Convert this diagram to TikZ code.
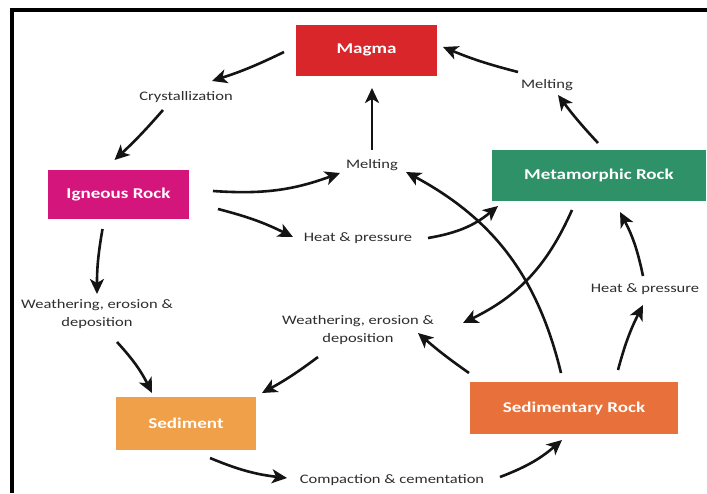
\documentclass[tikz,border=0pt]{standalone}
\usepackage{fontspec}
\setmainfont[FakeStretch=1.27]{Carlito}
\usetikzlibrary{arrows.meta,calc}
\definecolor{magmared}{HTML}{D8262B}
\definecolor{igneouspink}{HTML}{D4167C}
\definecolor{metagreen}{HTML}{2F9168}
\definecolor{sedorange}{HTML}{F0A048}
\definecolor{sedrockorange}{HTML}{E8703A}
\definecolor{labelgray}{HTML}{2E2E2E}
\begin{document}
\begin{tikzpicture}[x=1pt,y=-1pt,
  rockbox/.style={fill=#1, text=white, inner sep=0pt, font=\fontsize{15}{18}\selectfont\bfseries},
  lbl/.style={text=labelgray, inner sep=0pt, align=center, font=\fontsize{13}{18}\selectfont},
  arr/.style={-{Stealth[length=15pt,width=14pt,inset=4pt]}, line width=2.6pt, draw=black!92}]
\useasboundingbox (0,0) rectangle (707,493);
\fill[white] (0,0) rectangle (707,493);
% frame (top and left edges)
\fill[black] (10,7.5) rectangle (707,11.5);
\fill[black] (10,7.5) rectangle (14,493);

% boxes
\node[rockbox=magmared, minimum width=141pt, minimum height=51pt] (magma) at (366.5,50) {Magma};
\node[rockbox=igneouspink, minimum width=141pt, minimum height=49pt] (igneous) at (118.5,194.5) {Igneous Rock};
\node[rockbox=metagreen, minimum width=214pt, minimum height=51pt] (meta) at (599,175.5) {Metamorphic Rock};
\node[rockbox=sedorange, minimum width=140pt, minimum height=53pt] (sediment) at (186,423.5) {Sediment};
\node[rockbox=sedrockorange, minimum width=208pt, minimum height=52pt] (sedrock) at (574,408) {Sedimentary Rock};

% labels
\node[lbl] (cryst) at (186,97) {Crystallization};
\node[lbl] (melt1) at (372,165) {Melting};
\node[lbl] (melt2) at (547,85) {Melting};
\node[lbl] (heat1) at (358,238) {Heat \& pressure};
\node[lbl] (heat2) at (645,289) {Heat \& pressure};
\node[lbl] (weath1) at (97,314) {Weathering, erosion \&\\deposition};
\node[lbl] (weath2) at (358,330) {Weathering, erosion \&\\deposition};
\node[lbl] (compact) at (392,480) {Compaction \& cementation};

% connectors
\draw[arr] ([shift={(-82.5,2)}]magma.center) to[bend left=4] ([shift={(26,-16)}]cryst.center);
\draw[arr] ([shift={(-23,13)}]cryst.center) to[bend left=3] ([shift={(-4,-34.5)}]igneous.center);
\draw[arr] ([shift={(94.5,-3.5)}]igneous.center) to[bend right=12] ([shift={(-32,8)}]melt1.center);
\draw[arr] ([shift={(0,-15)}]melt1.center) -- ([shift={(5.5,38)}]magma.center);
\draw[arr] ([shift={(-1,-32.5)}]meta.center) to[bend left=3] ([shift={(11,10)}]melt2.center);
\draw[arr] ([shift={(-29,-13)}]melt2.center) to[bend left=4] ([shift={(76.5,-3)}]magma.center);
\draw[arr] ([shift={(99.5,14.5)}]igneous.center) to[bend left=6] ([shift={(-65,-1)}]heat1.center);
\draw[arr] ([shift={(70,0)}]heat1.center) to[bend right=15] ([shift={(-101,30.5)}]meta.center);
\draw[arr] ([shift={(-13,-35)}]sedrock.center) to[bend right=24] ([shift={(34,7)}]melt1.center);
\draw[arr] ([shift={(-27,34.5)}]meta.center) to[bend left=20] ([shift={(105,-7)}]weath2.center);
\draw[arr] ([shift={(-2,-13)}]heat2.center) to[bend right=8] ([shift={(21,36.5)}]meta.center);
\draw[arr] ([shift={(44,-38)}]sedrock.center) to[bend left=6] ([shift={(-2,16)}]heat2.center);
\draw[arr] ([shift={(-105,-35)}]sedrock.center) to[bend left=3] ([shift={(60,3)}]weath2.center);
\draw[arr] ([shift={(-40,27)}]weath2.center) to[bend left=4] ([shift={(76,-30.5)}]sediment.center);
\draw[arr] ([shift={(-16,34.5)}]igneous.center) to[bend right=5] ([shift={(0,-20)}]weath1.center);
\draw[arr] ([shift={(20,28)}]weath1.center) to[bend left=8] ([shift={(-34,-30.5)}]sediment.center);
\draw[arr] ([shift={(24,34.5)}]sediment.center) to[bend right=8] ([shift={(-105,-2)}]compact.center);
\draw[arr] ([shift={(108,-3)}]compact.center) to[bend right=10] ([shift={(-12,32)}]sedrock.center);
\end{tikzpicture}
\end{document}
